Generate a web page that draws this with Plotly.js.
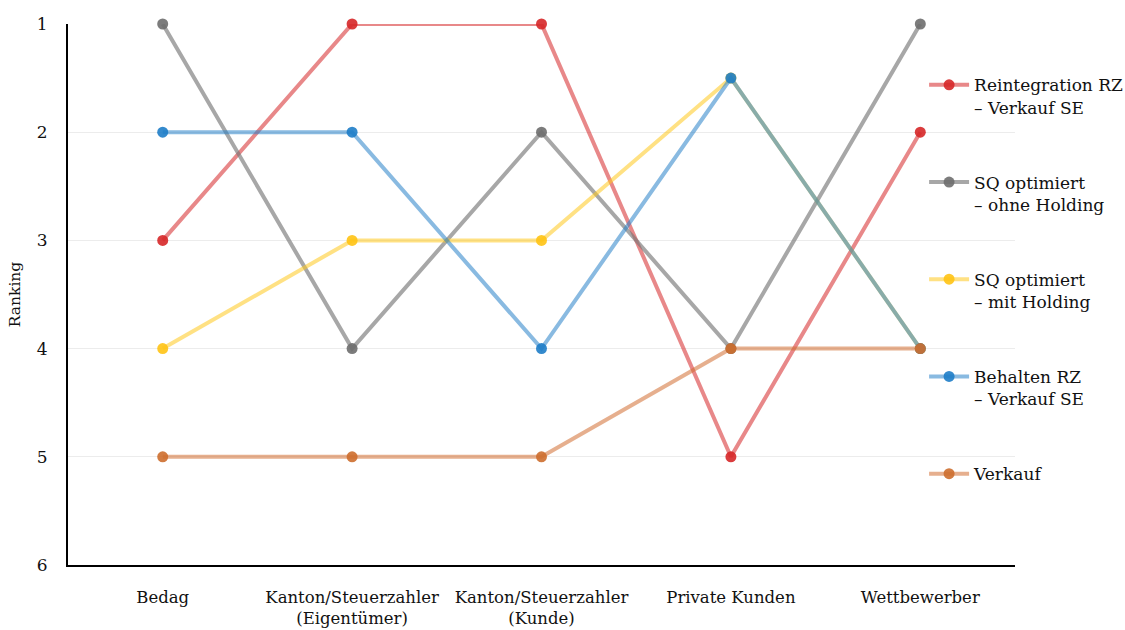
<!DOCTYPE html>
<html>
<head>
<meta charset="utf-8">
<script src="https://cdn.plot.ly/plotly-3.0.1.min.js"></script>
<style>html,body{margin:0;padding:0;background:#fff;}#chart{width:1125px;height:630px;}</style>
</head>
<body>
<div id="chart"></div>
<script>
const categories = ["Bedag", "Kanton/Steuerzahler<br>(Eigentümer)", "Kanton/Steuerzahler<br>(Kunde)", "Private Kunden", "Wettbewerber"];
const seriesNames = [
  "Reintegration RZ<br>– Verkauf SE",
  "SQ optimiert<br>– ohne Holding",
  "SQ optimiert<br>– mit Holding",
  "Behalten RZ<br>– Verkauf SE",
  "Verkauf"
];
const reintegration = [3, 1, 1, 5, 2];
const sqOhneHolding = [1, 4, 2, 4, 1];
const sqMitHolding = [4, 3, 3, 1.5, 4];
const behalten = [2, 2, 4, 1.5, 4];
const verkauf = [5, 5, 5, 4, 4];
const yTicks = [1, 2, 3, 4, 5, 6];

const values = [reintegration, sqOhneHolding, sqMitHolding, behalten, verkauf];
const lineColors = ["rgba(214,39,40,0.55)", "rgba(120,120,120,0.65)", "rgba(255,200,30,0.55)", "rgba(40,130,200,0.55)", "rgba(210,110,50,0.55)"];
const markerColors = ["rgba(214,39,40,0.9)", "rgba(110,110,110,0.9)", "rgba(255,195,20,0.9)", "rgba(30,125,200,0.9)", "rgba(205,110,45,0.9)"];

const traces = values.map((v, i) => ({
  type: "scatter",
  mode: "lines+markers",
  x: categories,
  y: v,
  name: seriesNames[i],
  legendgroup: "g" + i,
  line: {color: lineColors[i], width: 4},
  marker: {color: markerColors[i], size: 11},
  cliponaxis: false
}));

const font = "DejaVu Serif, serif";
const layout = {
  width: 1125, height: 630,
  margin: {l: 68, r: 110, t: 24, b: 65, autoexpand: false},
  paper_bgcolor: "#fff", plot_bgcolor: "#fff",
  font: {family: font, size: 16, color: "#111"},
  xaxis: {
    type: "category",
    range: [-0.5, 4.5],
    showgrid: false,
    showline: true, linecolor: "#000", linewidth: 2,
    ticks: "", ticklabelstandoff: 16,
    tickangle: 0,
    tickfont: {family: font, size: 16.5, color: "#111"},
    fixedrange: true
  },
  yaxis: {
    range: [6, 1],
    tickvals: yTicks,
    ticktext: yTicks.map(String),
    showgrid: true, gridcolor: "#ececec", gridwidth: 1,
    zeroline: false,
    showline: true, linecolor: "#000", linewidth: 2,
    ticks: "", ticklabelstandoff: 15,
    tickfont: {family: font, size: 17, color: "#111"},
    title: {text: "Ranking", font: {family: font, size: 15.5, color: "#111"}, standoff: 12}
  },
  showlegend: true,
  legend: {
    x: 0.904, xanchor: "left", y: 0.92, yanchor: "top",
    bgcolor: "rgba(0,0,0,0)",
    valign: "top",
    itemwidth: 40,
    tracegroupgap: 50,
    font: {family: font, size: 17, color: "#111"}
  }
};
Plotly.newPlot("chart", traces, layout, {displayModeBar: false, staticPlot: true});
</script>
</body>
</html>
